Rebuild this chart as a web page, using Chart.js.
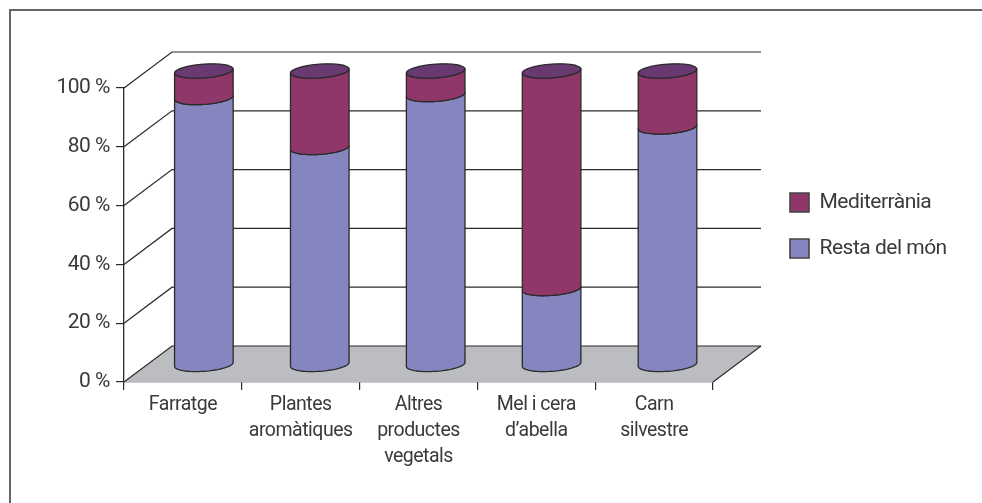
<!DOCTYPE html>
<html><head><meta charset="utf-8">
<style>html,body{margin:0;padding:0;background:#fff}canvas{display:block}</style>
<script src="https://cdn.jsdelivr.net/npm/chart.js@4"></script>
</head><body><canvas id="c" width="982" height="503"></canvas>
<script>
const categories = [["Farratge"],["Plantes","aromàtiques"],["Altres","productes","vegetals"],["Mel i cera","d’abella"],["Carn","silvestre"]];
const restaDelMon = [91,74,92,26,81];
const mediterrania = [9,26,8,74,19];
const seriesNames = ["Resta del món","Mediterrània"];
const yTicksStep = 20;

const INK='#2a2a2a', TEXT='#3a3a3a', FONT='Roboto,"Liberation Sans",sans-serif';
const DEPTH={dx:48,dy:-36}, MID={dx:21.9,dy:-17,spread:0.984}, RAD_X=29.3, RAD_Y=6.9, SKEW=-2;

function arcPts(cx,cy,from,to){
  const pts=[];const n=32;
  for(let i=0;i<=n;i++){const t=from+(to-from)*i/n;
    pts.push([cx+RAD_X*Math.cos(t),cy+RAD_Y*Math.sin(t)+SKEW*Math.cos(t)]);}
  return pts;
}
const scene={id:'scene',
  beforeDraw(chart){chart.ctx.letterSpacing='-0.5px';},
  beforeDatasetsDraw(chart){
    const {ctx,chartArea:a,scales:{y}}=chart;
    ctx.save();
    const y0=y.getPixelForValue(0);
    ctx.beginPath();ctx.moveTo(a.left,y0);ctx.lineTo(a.left+DEPTH.dx,y0+DEPTH.dy);
    ctx.lineTo(a.right+DEPTH.dx,y0+DEPTH.dy);ctx.lineTo(a.right,y0);ctx.closePath();
    ctx.fillStyle='#bcbdc0';ctx.fill();
    ctx.strokeStyle=INK;ctx.lineWidth=1.2;
    y.ticks.forEach(t=>{const p=y.getPixelForValue(t.value);
      ctx.beginPath();ctx.moveTo(a.left,p);ctx.lineTo(a.left+DEPTH.dx,p+DEPTH.dy);
      ctx.lineTo(a.right+DEPTH.dx,p+DEPTH.dy);ctx.stroke();});
    ctx.beginPath();ctx.moveTo(a.right+DEPTH.dx,y0+DEPTH.dy);ctx.lineTo(a.right,y0);ctx.stroke();
    ctx.restore();
  },
  beforeDatasetDraw(){return false;},
  afterDatasetsDraw(chart){
    const ctx=chart.ctx, a=chart.chartArea;
    const m0=chart.getDatasetMeta(0), m1=chart.getDatasetMeta(1);
    ctx.save();ctx.strokeStyle=INK;ctx.lineWidth=1.3;ctx.lineJoin='round';
    m0.data.forEach((bar,i)=>{
      const cx=a.left+MID.dx+(bar.x-a.left)*MID.spread;
      [[m0,0],[m1,1]].forEach(([m,k])=>{
        const b=m.data[i];
        const top=b.y+MID.dy, bot=b.base+MID.dy;
        const low=arcPts(cx,bot,Math.PI,0), up=arcPts(cx,top,0,Math.PI);
        ctx.beginPath();
        low.concat(up).forEach((p,j)=>j?ctx.lineTo(p[0],p[1]):ctx.moveTo(p[0],p[1]));
        ctx.closePath();
        ctx.fillStyle=chart.data.datasets[k].backgroundColor;ctx.fill();ctx.stroke();
      });
      const tb=m1.data[i];
      const ring=arcPts(cx,tb.y+MID.dy,0,Math.PI*2);
      ctx.beginPath();ring.forEach((p,j)=>j?ctx.lineTo(p[0],p[1]):ctx.moveTo(p[0],p[1]));
      ctx.closePath();ctx.fillStyle='#693a72';ctx.fill();ctx.stroke();
    });
    ctx.restore();
  },
  beforeLayout(chart){
    const lg=chart.legend;
    if(lg&&!lg._patched){lg._patched=true;const f=lg.fit;
      lg.fit=function(){f.call(this);this.width=269;};}
  },
  afterLayout(chart){
    const lg=chart.legend;
    lg.left=765;lg.right=lg.left+205;
    lg.top-=9.5;lg.bottom-=9.5;
  },
  afterDraw(chart){
    const ctx=chart.ctx;ctx.save();ctx.strokeStyle='#666';ctx.lineWidth=2;
    ctx.beginPath();ctx.moveTo(10,chart.height);ctx.lineTo(10,10);ctx.lineTo(chart.width,10);ctx.stroke();ctx.restore();
  }
};
new Chart(document.getElementById('c'),{
  type:'bar',
  data:{labels:categories,datasets:[
    {label:seriesNames[0],data:restaDelMon,backgroundColor:'#8585bf',borderColor:'#444',borderWidth:1.6},
    {label:seriesNames[1],data:mediterrania,backgroundColor:'#8f3768',borderColor:'#444',borderWidth:1.6}
  ]},
  options:{responsive:false,animation:false,
    layout:{padding:{left:0,top:88,right:0,bottom:0}},
    plugins:{tooltip:{enabled:false},title:{display:false},
      legend:{position:'right',fullSize:false,reverse:true,align:'center',
        labels:{boxWidth:19,boxHeight:19,padding:25,color:TEXT,font:{family:FONT,size:21}}}},
    scales:{
      x:{stacked:true,
        afterFit(s){s.height=121;},
        grid:{drawOnChartArea:false,color:INK,lineWidth:1.2,tickLength:8,offset:true},
        border:{color:INK,width:1.3},
        ticks:{color:TEXT,font:{family:FONT,size:19.5,lineHeight:1.34},padding:2,maxRotation:0,autoSkip:false}},
      y:{stacked:true,min:0,max:100,
        afterFit(s){s.width=124;},
        grid:{drawOnChartArea:false,color:INK,lineWidth:1.2,tickLength:8},
        border:{color:INK,width:1.3},
        ticks:{stepSize:yTicksStep,color:TEXT,padding:6,font:{family:FONT,size:21},callback:v=>v+' %'}}
    }
  },
  plugins:[scene]
});
</script></body></html>
